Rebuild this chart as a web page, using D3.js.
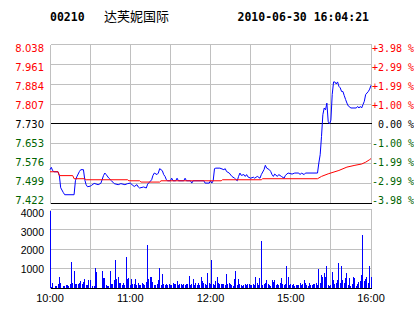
<!DOCTYPE html>
<html><head><meta charset="utf-8">
<script src="https://cdn.jsdelivr.net/npm/d3@7"></script>
<style>html,body{margin:0;padding:0;background:#fff;}svg{display:block;}</style>
</head><body>
<svg id="c" width="414" height="314"></svg>
<script>
const code = "00210";
const stockName = "达芙妮国际";
const stamp = "2010-06-30 16:04:21";
const prevClose = 7.730;
const priceTicks = [8.038, 7.961, 7.884, 7.807, 7.730, 7.653, 7.576, 7.499, 7.422];
const pctLabels = ["+3.98 %", "+2.99 %", "+1.99 %", "+1.00 %", " 0.00 %", "-1.00 %", "-1.99 %", "-2.99 %", "-3.98 %"];
const gridMinutes = [0, 30, 60, 90, 120, 150, 180, 210, 240];
const timeTickMinutes = [0, 60, 120, 180, 240];
const timeLabels = ["10:00", "11:00", "12:00", "15:00", "16:00"];
const volTicks = [1000, 2000, 3000, 4000];

// price line: minute index (0..240) and price
const priceMin = [0,1,2,3,6,7,8,10,11,18,19,20,22,23,25,26,27,28,30,31,33,36,38,40,41,42,44,46,48,51,53,56,58,60,
  62,63,65,66,67,70,72,73,76,77,78,80,81,82,84,85,86,87,88,90,91,92,94,95,96,100,101,102,105,106,107,115,116,119,120,
  121,122,123,124,127,130,131,132,134,136,138,140,141,142,143,145,146,147,148,150,152,153,155,157,158,160,161,162,164,165,166,167,168,170,171,173,175,176,178,181,183,186,187,188,190,191,200,
  201,202,203,204,205,206,207,208,209,210,211,212,213,214,215,216,217,218,219,220,221,222,223,225,229,230,231,232,233,234,235,236,237,238,239,240];
const priceVal = [7.553,7.562,7.549,7.545,7.545,7.530,7.483,7.464,7.456,7.456,7.510,7.525,7.546,7.553,7.553,7.514,7.495,7.487,7.489,7.492,7.500,7.495,7.500,7.530,7.540,7.534,7.520,7.510,7.499,7.495,7.499,7.495,7.499,7.501,
  7.492,7.488,7.495,7.486,7.482,7.486,7.482,7.497,7.514,7.531,7.540,7.534,7.540,7.557,7.549,7.534,7.527,7.514,7.510,7.510,7.520,7.510,7.510,7.520,7.510,7.510,7.520,7.510,7.510,7.501,7.510,7.510,7.501,7.501,7.510,
  7.501,7.510,7.557,7.559,7.559,7.553,7.557,7.546,7.540,7.527,7.520,7.510,7.527,7.540,7.531,7.534,7.527,7.534,7.525,7.520,7.524,7.520,7.527,7.520,7.534,7.553,7.570,7.559,7.553,7.546,7.534,7.527,7.536,7.527,7.534,7.527,7.520,7.531,7.540,7.536,7.540,7.540,7.534,7.540,7.534,7.540,7.540,
  7.579,7.611,7.682,7.766,7.792,7.785,7.811,7.740,7.730,7.745,7.844,7.893,7.893,7.885,7.893,7.876,7.870,7.856,7.856,7.840,7.825,7.811,7.800,7.792,7.792,7.798,7.792,7.798,7.792,7.805,7.818,7.844,7.850,7.856,7.865,7.880];

// average price line
const avgMin = [0,6,7,17,18,26,27,58,59,67,68,82,83,128,129,158,159,200,203,208,216,222,228,233,236,239,240];
const avgVal = [7.545,7.545,7.530,7.530,7.518,7.518,7.514,7.514,7.510,7.510,7.505,7.505,7.510,7.510,7.514,7.514,7.518,7.518,7.527,7.537,7.550,7.563,7.570,7.575,7.582,7.592,7.596];

// volume per minute (241 bars)
const volume = [
  3920,60,300,0,120,120,250,570,300,0,
  120,120,170,170,120,220,1330,300,880,250,
  220,250,300,370,220,340,470,170,170,420,
  420,0,120,120,1030,830,0,0,50,880,
  520,520,170,135,135,880,220,240,420,1430,
  470,570,270,270,170,300,170,1590,470,520,
  170,470,220,220,470,170,300,170,170,300,
  220,170,340,2190,470,570,570,340,170,170,
  220,420,1030,170,730,250,170,220,170,250,
  170,170,300,220,250,370,170,250,250,170,
  220,170,250,220,620,170,220,470,170,300,
  170,300,170,570,370,300,250,170,760,300,
  220,1430,250,170,370,570,300,220,250,220,
  250,170,730,220,300,250,170,120,470,880,
  170,470,220,170,135,170,220,170,220,220,
  170,170,220,170,570,300,170,520,2400,170,
  220,300,420,250,170,135,420,340,420,170,
  250,170,300,520,220,170,220,1130,570,170,
  250,170,250,135,170,170,170,300,170,220,
  420,300,170,135,300,170,170,250,220,300,
  170,980,300,680,570,760,570,1130,170,135,
  170,830,420,220,300,420,1280,300,1130,420,
  300,520,760,170,520,135,250,570,520,135,
  250,340,370,680,2700,370,470,570,300,1130,570];

const svg = d3.select("#c");
const pTop = 44.5, pBot = 203.5, vTop = 209.5, vBot = 288.5;
const x = d3.scaleLinear().domain([0, 240]).range([50, 371]);
const yP = d3.scaleLinear().domain([7.422, 8.038]).range([pBot, pTop]);
const yV = d3.scaleLinear().domain([0, 4000]).range([vBot, vTop]);
const grid = "#c0c0c0";
const red = "#ff0000", green = "#006400";
const crisp = v => Math.floor(v) + 0.5;
const xL = crisp(x(0)), xR = crisp(x(240));

// header
svg.append("text").attr("x", 50).attr("y", 21).attr("font-family", "DejaVu Sans Mono").attr("font-weight", "bold").attr("font-size", "11.5px").attr("fill", "#000").text(code);
svg.append("text").attr("x", 104).attr("y", 20.5).attr("font-family", "Noto Sans CJK SC").attr("font-size", "13px").attr("fill", "#000").text(stockName);
svg.append("text").attr("x", 237.5).attr("y", 21).attr("font-family", "DejaVu Sans Mono").attr("font-weight", "bold").attr("font-size", "11.5px").attr("fill", "#000").text(stamp);

const g = svg.append("g").attr("shape-rendering", "crispEdges");
// vertical grid
gridMinutes.forEach(m => {
  const xx = crisp(x(m));
  g.append("line").attr("x1", xx).attr("x2", xx).attr("y1", pTop).attr("y2", pBot).attr("stroke", grid);
  g.append("line").attr("x1", xx).attr("x2", xx).attr("y1", vTop).attr("y2", vBot).attr("stroke", grid);
});
// horizontal price grid
priceTicks.forEach(v => {
  const yy = crisp(yP(v));
  const black = (v === prevClose || v === priceTicks[priceTicks.length - 1]);
  g.append("line").attr("x1", xL).attr("x2", xR).attr("y1", yy).attr("y2", yy).attr("stroke", black ? "#000" : grid);
});
// volume grid
[0].concat(volTicks).forEach(v => {
  const yy = crisp(yV(v));
  g.append("line").attr("x1", xL).attr("x2", xR).attr("y1", yy).attr("y2", yy).attr("stroke", v === 0 ? "#000" : grid);
});

// price labels
priceTicks.forEach((v, i) => {
  const yy = yP(v);
  const base = yy + 7 * (pBot - yy) / (pBot - pTop);
  const col = v > prevClose ? red : (v < prevClose ? green : "#000");
  svg.append("text").attr("x", 44).attr("y", base).attr("text-anchor", "end")
    .attr("font-family", "DejaVu Sans").attr("font-size", "10px").attr("fill", col).text(v.toFixed(3));
  svg.append("text").attr("x", 372).attr("y", base).attr("style", "white-space:pre")
    .attr("font-family", "DejaVu Sans Mono").attr("font-size", "10px").attr("fill", col).text(pctLabels[i]);
});
// volume labels
volTicks.forEach(v => {
  const yy = yV(v);
  const base = yy + 3.5 * (vBot - yy) / (vBot - vTop) + 3.7;
  svg.append("text").attr("x", 44).attr("y", base).attr("text-anchor", "end")
    .attr("font-family", "Liberation Sans").attr("font-size", "10.5px").attr("fill", "#000").text(v);
});
// time labels
timeTickMinutes.forEach((m, i) => {
  svg.append("text").attr("x", x(m)).attr("y", 302).attr("text-anchor", "middle")
    .attr("font-family", "Liberation Sans").attr("font-size", "11px").attr("fill", "#000").text(timeLabels[i]);
});

// volume bars
g.selectAll("rect.v").data(volume).enter().append("rect").attr("class", "v")
  .attr("x", (d, i) => Math.floor(x(i))).attr("width", 1)
  .attr("y", d => yV(d) ).attr("height", d => Math.max(0, (vBot - 0.5) - yV(d)))
  .attr("fill", "#0000ff");

// price line
const pts = priceMin.map((m, i) => [m, priceVal[i]]);
const line = d3.line().x(d => x(d[0])).y(d => yP(d[1]));
svg.append("path").attr("d", line(pts)).attr("fill", "none").attr("stroke", "#0000ff").attr("stroke-width", 1);
const apts = avgMin.map((m, i) => [m, avgVal[i]]);
svg.append("path").attr("d", line(apts)).attr("fill", "none").attr("stroke", "#ff0000").attr("stroke-width", 1);
</script>
</body></html>
